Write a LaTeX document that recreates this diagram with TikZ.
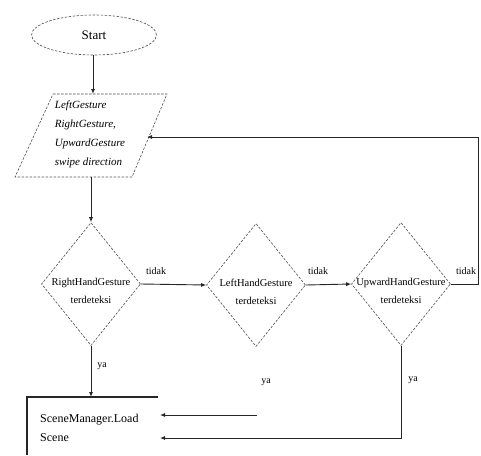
\documentclass[tikz,border=0pt]{standalone}
\usepackage{fontspec}
\setmainfont{Liberation Serif}
\usetikzlibrary{shapes.geometric,arrows.meta}
\begin{document}
\begin{tikzpicture}[x=1pt,y=-1pt,
  dsh/.style={draw=black!70, line width=0.6pt, dash pattern=on 2.5pt off 1.5pt},
  conn/.style={draw=black!85, line width=0.9pt},
  arr/.style={conn,-{Latex[length=5pt,width=4pt]}},
  dec/.style={diamond, dsh, minimum width=99pt, minimum height=123pt, inner sep=0pt},
  dectext/.style={align=center, inner sep=0pt, font=\fontsize{10.5}{18}\selectfont},
  lbl/.style={font=\fontsize{10}{12}\selectfont, inner sep=1pt}]
\useasboundingbox (0,0) rectangle (481,455);
% start
\node[ellipse, dsh, minimum width=125pt, minimum height=40pt, font=\fontsize{13}{15}\selectfont] (start) at (94,35) {Start};
% input parallelogram
\coordinate (pTL) at (53,94);
\coordinate (pTR) at (167,94);
\coordinate (pBR) at (132,177);
\coordinate (pBL) at (15,177);
\coordinate (pT) at (93,94);
\coordinate (pB) at (91,177);
\coordinate (pR) at (147,137);
\draw[dsh] (pTL) -- (pTR) -- (pBR) -- (pBL) -- cycle;
\node[font=\itshape\fontsize{11}{19}\selectfont, align=left] (inp) at (90,134) {LeftGesture\\RightGesture,\\UpwardGesture\\swipe direction};
% decisions
\node[dec] (d1) at (91,284) {};
\node[dec] (d2) at (256,285) {};
\node[dec] (d3) at (401,284) {};
\node[dectext] (d1t) at (91,291) {RightHandGesture\\terdeteksi};
\node[dectext] (d2t) at (256,292) {LeftHandGesture\\terdeteksi};
\node[dectext] (d3t) at (401,291) {UpwardHandGesture\\terdeteksi};
% box
\coordinate (bTL) at (27,397);
\coordinate (bTR) at (158,397);
\coordinate (bBL) at (27,455);
\coordinate (bIn1) at (160,415);
\coordinate (bIn2) at (160,438);
\coordinate (d2y) at (257,415);
\draw[conn, line width=1.2pt] (bTR) -- (bTL) -- (bBL);
\node[font=\fontsize{12}{19}\selectfont, align=left, anchor=north west, inner sep=0pt] (scene) at (40,414) {SceneManager.Load\\Scene};
% loop coordinates
\coordinate (rt) at (478,137);
% connectors
\draw[arr] (start.south -| pT) -- (pT);
\draw[arr] (pB) -- (d1.north);
\draw[arr] (d1.east) -- (d2.west);
\draw[arr] (d2.east) -- (d3.west);
\draw[arr] (d3.east) -- (d3.east -| rt) -- (rt) -- (pR);
\draw[arr] (d1.south) -- (d1.south |- bTL);
\draw[arr] (d2y) -- (bIn1);
\draw[arr] (d3.south) -- (d3.south |- bIn2) -- (bIn2);
% labels
\node[lbl] (t1) at (156,271) {tidak};
\node[lbl] (t2) at (318,271) {tidak};
\node[lbl] (t3) at (466,271) {tidak};
\node[lbl] (y1) at (102,366) {ya};
\node[lbl] (y2) at (266,382) {ya};
\node[lbl] (y3) at (413,380) {ya};
\end{tikzpicture}
\end{document}
